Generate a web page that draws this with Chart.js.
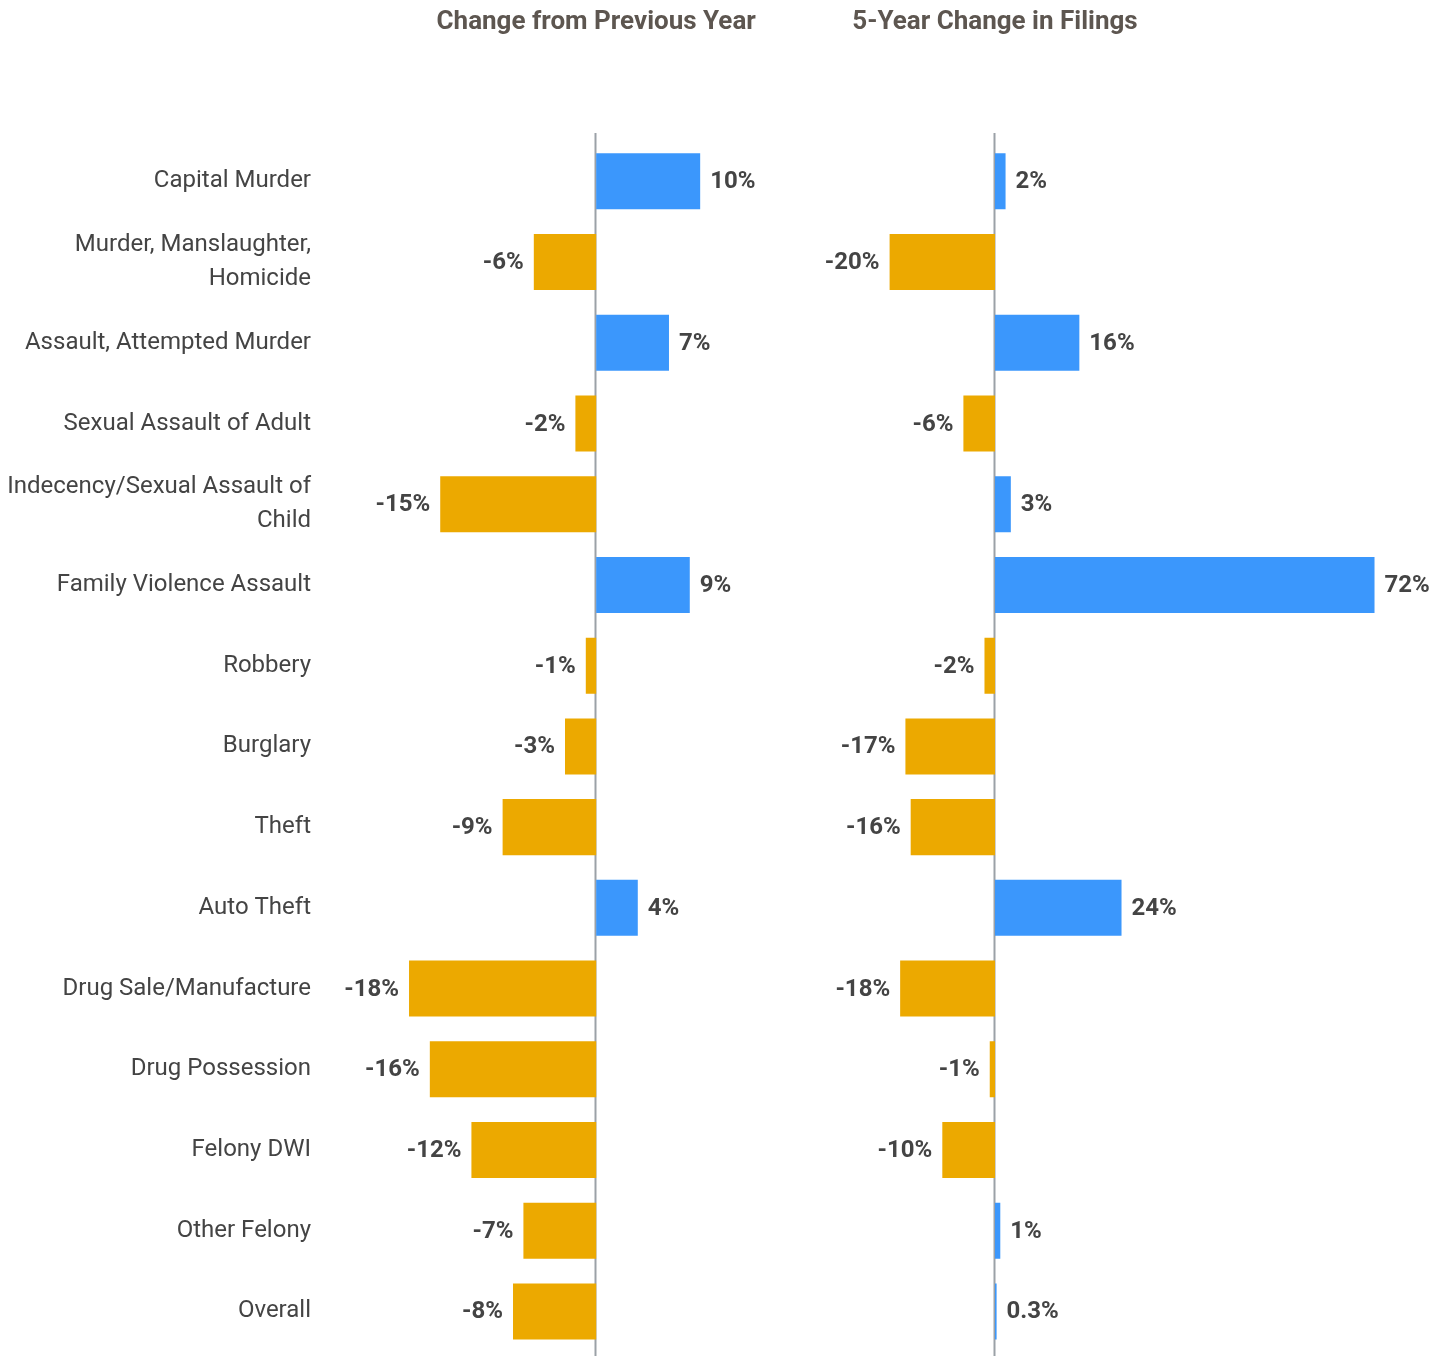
<!DOCTYPE html>
<html>
<head>
<meta charset="utf-8">
<title>Filings change</title>
<script src="https://cdn.jsdelivr.net/npm/chart.js@4.4.1/dist/chart.umd.min.js"></script>
<style>
  body { margin: 0; background: #fff; }
  #wrap { position: relative; width: 1452px; height: 1356px; }
  canvas { position: absolute; top: 0; }
</style>
</head>
<body>
<div id="wrap">
  <canvas id="leftChart" width="800" height="1356" style="left:0"></canvas>
  <canvas id="rightChart" width="652" height="1356" style="left:800px"></canvas>
</div>

<script>
// categories (rows)
const categories = [
  "Capital Murder",
  ["Murder, Manslaughter,", "Homicide"],
  "Assault, Attempted Murder",
  "Sexual Assault of Adult",
  ["Indecency/Sexual Assault of", "Child"],
  "Family Violence Assault",
  "Robbery",
  "Burglary",
  "Theft",
  "Auto Theft",
  "Drug Sale/Manufacture",
  "Drug Possession",
  "Felony DWI",
  "Other Felony",
  "Overall"
];

// percent change values
const prevYearChange = [10, -6, 7, -2, -15, 9, -1, -3, -9, 4, -18, -16, -12, -7, -8];
const fiveYearChange = [2, -20, 16, -6, 3, 72, -2, -17, -16, 24, -18, -1, -10, 1, 0.3];

const titles = ["Change from Previous Year", "5-Year Change in Filings"];

const BLUE = "#3b97fc";
const ORANGE = "#eca900";
const FONT = "Roboto, 'Liberation Sans', sans-serif";

function barColors(vals) {
  return vals.map(v => v >= 0 ? BLUE : ORANGE);
}

// plugin: zero line, title above, value labels next to bars
const extras = {
  id: "extras",
  beforeDatasetsDraw(chart, args, opts) {
    const ctx = chart.ctx;
    const x0 = Math.round(chart.scales.x.getPixelForValue(0)) - 0.5;
    ctx.save();
    ctx.strokeStyle = "#9ba1a7";
    ctx.lineWidth = 2;
    ctx.beginPath();
    ctx.moveTo(x0, 133);
    ctx.lineTo(x0, chart.height);
    ctx.stroke();
    ctx.restore();
  },
  afterDatasetsDraw(chart, args, opts) {
    const ctx = chart.ctx;
    const x0 = chart.scales.x.getPixelForValue(0);
    ctx.save();
    // title
    ctx.font = "bold 26px " + FONT;
    ctx.fillStyle = "#5d5650";
    ctx.textAlign = "center";
    ctx.textBaseline = "middle";
    ctx.fillText(opts.title, x0, 22);

    // values
    ctx.font = "bold 24px " + FONT;
    ctx.fillStyle = "#444444";
    const meta = chart.getDatasetMeta(0);
    const data = chart.data.datasets[0].data;
    meta.data.forEach((bar, i) => {
      const v = data[i];
      if (v >= 0) {
        ctx.textAlign = "left";
        ctx.fillText(v + "%", bar.x + 10, bar.y + 1);
      } else {
        ctx.textAlign = "right";
        ctx.fillText(v + "%", bar.x - 10, bar.y + 1);
      }
    });
    ctx.restore();
  }
};

function makeChart(id, vals, title, min, max, showLabels) {
  const yAxis = {
    display: showLabels,
    grid: { display: false, drawTicks: false },
    border: { display: false },
    ticks: {
      padding: 19,
      color: "#444444",
      font: { family: FONT, size: 24, lineHeight: 1.4 }
    }
  };
  if (showLabels) {
    yAxis.afterFit = function (scale) {
      scale.width = 330;
      // no extra room for first/last label
      scale.paddingTop = 0;
      scale.paddingBottom = 0;
    };
  }

  return new Chart(document.getElementById(id), {
    type: "bar",
    data: {
      labels: categories,
      datasets: [{
        data: vals,
        backgroundColor: barColors(vals),
        categoryPercentage: 1,
        barPercentage: 0.694
      }]
    },
    options: {
      indexAxis: "y",
      responsive: false,
      animation: false,
      layout: { padding: { top: 141, bottom: 4.2, left: 0, right: 0 } },
      plugins: {
        legend: { display: false },
        tooltip: { enabled: false },
        extras: { title: title }
      },
      scales: {
        x: {
          display: false,
          min: min,
          max: max
        },
        y: yAxis
      }
    },
    plugins: [extras]
  });
}

makeChart("leftChart", prevYearChange, titles[0], -25.6, 19.6, true);
makeChart("rightChart", fiveYearChange, titles[1], -37, 86.7, false);
</script>
</body>
</html>
